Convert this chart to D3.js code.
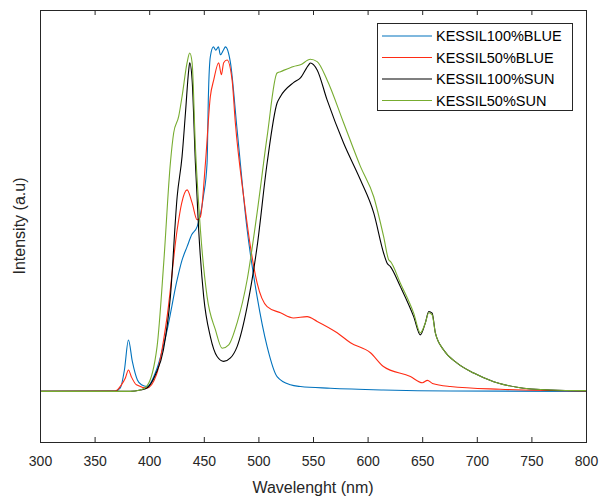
<!DOCTYPE html>
<meta charset="utf-8">
<style>
  body {
    margin: 0;
    background: #fff;
    font-family: "Liberation Sans", Arial, sans-serif;
  }
  .axis text {
    font-size: 14px;
    fill: #262626;
  }
  .axis line, .axis path {
    stroke: #262626;
  }
  .series {
    fill: none;
    stroke-width: 1.1;
    stroke-linejoin: round;
  }
  .legend text {
    font-size: 14.5px;
    fill: #000;
  }
</style>
<body>
<div id="chart"></div>
<script src="https://d3js.org/d3.v7.min.js"></script>
<script>
// wavelength (nm) and intensity (a.u., normalised)
const seriesNames = ["KESSIL100%BLUE", "KESSIL50%BLUE", "KESSIL100%SUN", "KESSIL50%SUN"];
const seriesColors = ["#0072BD", "#FF2B14", "#000000", "#77AC30"];

const wlBlue100 = [300, 369, 373.6, 377.3, 381, 384.6, 389.2, 392.9, 398, 406.6, 416.4, 425.6, 430, 434.7, 439, 443.9, 449.6, 453, 454.2, 456, 458.8, 461, 463.4, 465.2, 468, 469.8, 474.4, 480.5, 489.7, 498.8, 508, 517.1, 529.3, 538.5, 565.9, 614.5, 675.8, 800];
const valBlue100 = [0, 0.001, 0.01, 0.062, 0.149, 0.086, 0.033, 0.019, 0.014, 0.062, 0.178, 0.324, 0.38, 0.42, 0.455, 0.478, 0.565, 0.663, 0.856, 0.972, 1.0, 0.99, 1.0, 0.977, 0.991, 1.0, 0.954, 0.759, 0.469, 0.275, 0.13, 0.043, 0.019, 0.014, 0.009, 0.004, 0.001, 0];

const wlBlue50 = [300, 369, 374.5, 378.2, 381, 383.7, 388.3, 398, 406.6, 416.4, 425.6, 429.7, 434.7, 439.3, 443.9, 446.9, 451.5, 456, 459.1, 463.6, 466.1, 468.2, 471.3, 475.9, 478.9, 486.5, 492.7, 498.8, 508, 520.2, 532.1, 544.6, 553.8, 572.1, 584.3, 602.6, 614.5, 639.2, 650.2, 654.8, 659.4, 675.8, 721.6, 800];
const valBlue50 = [0, 0.001, 0.019, 0.039, 0.062, 0.042, 0.019, 0.01, 0.048, 0.217, 0.469, 0.546, 0.585, 0.547, 0.498, 0.507, 0.663, 0.856, 0.904, 0.954, 0.919, 0.954, 0.962, 0.904, 0.779, 0.565, 0.42, 0.315, 0.246, 0.228, 0.213, 0.217, 0.203, 0.17, 0.141, 0.112, 0.072, 0.043, 0.025, 0.032, 0.023, 0.014, 0.006, 0.001];

const wlSun100 = [300, 382.8, 391.9, 398, 405.7, 413, 419.4, 425.6, 430.1, 433.2, 436.2, 437.1, 439.3, 442.3, 445.3, 449.9, 456, 462.2, 468.2, 474.4, 480.5, 489.7, 498.8, 508, 517.1, 520.2, 532.1, 538.5, 546.1, 547.6, 553.8, 562.9, 578.1, 593.4, 605.6, 614.7, 617.9, 620.9, 630, 642.2, 648.3, 652.9, 656, 659.1, 662.1, 669.7, 682, 697.2, 715.5, 736.9, 767.8, 800];
const valSun100 = [0, 0, 0.004, 0.01, 0.048, 0.12, 0.275, 0.565, 0.682, 0.808, 0.933, 0.954, 0.904, 0.663, 0.469, 0.275, 0.159, 0.101, 0.087, 0.097, 0.13, 0.246, 0.42, 0.663, 0.837, 0.856, 0.896, 0.91, 0.948, 0.953, 0.933, 0.846, 0.72, 0.614, 0.518, 0.401, 0.372, 0.362, 0.304, 0.217, 0.164, 0.199, 0.232, 0.227, 0.169, 0.12, 0.082, 0.053, 0.028, 0.012, 0.004, 0.002];

const wlSun50 = [300, 382.8, 391.9, 398, 407.2, 413.3, 419.4, 422.4, 427, 430.1, 434.7, 437.1, 439.3, 442.3, 446.9, 453, 460.6, 466.8, 472.8, 480.5, 489.7, 498.8, 508, 517.1, 520.2, 532.3, 538.5, 547.6, 553.8, 562.9, 578.1, 593.4, 605.6, 614.7, 619.3, 620.9, 630, 642.2, 648.3, 652.9, 656, 659.1, 662.1, 669.7, 682, 697.2, 715.5, 736.9, 767.8, 800];
const valSun50 = [0, 0, 0.004, 0.016, 0.13, 0.373, 0.663, 0.75, 0.798, 0.856, 0.954, 0.982, 0.954, 0.711, 0.469, 0.275, 0.179, 0.125, 0.135, 0.199, 0.324, 0.518, 0.74, 0.924, 0.928, 0.943, 0.948, 0.964, 0.957, 0.904, 0.779, 0.653, 0.565, 0.449, 0.382, 0.377, 0.314, 0.227, 0.17, 0.199, 0.228, 0.222, 0.169, 0.12, 0.082, 0.053, 0.028, 0.012, 0.004, 0.002];

const xTicks = [300, 350, 400, 450, 500, 550, 600, 650, 700, 750, 800];

const wavelengths = [wlBlue100, wlBlue50, wlSun100, wlSun50];
const intensities = [valBlue100, valBlue50, valSun100, valSun50];

const series = seriesNames.map((name, i) => ({
  name: name,
  color: seriesColors[i],
  points: wavelengths[i].map((w, j) => ({ wl: w, v: intensities[i][j] }))
}));

const width = 601, height = 499;
const margin = { top: 10, right: 15, bottom: 57, left: 40 };

const svg = d3.select("#chart")
  .append("svg")
  .attr("width", width)
  .attr("height", height);

const x = d3.scaleLinear()
  .domain([300, 800])
  .range([margin.left, width - margin.right]);

const y = d3.scaleLinear()
  .domain([-0.147, 1.107])
  .range([height - margin.bottom, margin.top]);

svg.append("defs").append("clipPath")
  .attr("id", "clip")
  .append("rect")
  .attr("x", margin.left)
  .attr("y", margin.top)
  .attr("width", width - margin.left - margin.right)
  .attr("height", height - margin.top - margin.bottom);

// lines
const line = d3.line()
  .curve(d3.curveMonotoneX)
  .x(d => x(d.wl))
  .y(d => y(d.v));

svg.append("g")
  .attr("clip-path", "url(#clip)")
  .selectAll("path")
  .data(series)
  .join("path")
  .attr("class", "series")
  .attr("stroke", d => d.color)
  .attr("d", d => line(d.points));

// axes (ticks pointing inward, box around)
svg.append("g")
  .attr("class", "axis")
  .attr("transform", `translate(0,${height - margin.bottom})`)
  .call(d3.axisBottom(x).tickValues(xTicks).tickSizeInner(-5).tickSizeOuter(0).tickPadding(14))
  .call(g => g.select(".domain").remove());

svg.append("g")
  .attr("class", "axis")
  .attr("transform", `translate(0,${margin.top})`)
  .call(d3.axisTop(x).tickValues(xTicks).tickSizeInner(-5).tickSizeOuter(0).tickFormat(""))
  .call(g => g.select(".domain").remove());

svg.append("rect")
  .attr("x", margin.left + 0.5)
  .attr("y", margin.top + 0.5)
  .attr("width", width - margin.left - margin.right)
  .attr("height", height - margin.top - margin.bottom)
  .attr("fill", "none")
  .attr("stroke", "#262626")
  .attr("stroke-width", 1);

// axis labels
svg.append("text")
  .attr("x", (margin.left + width - margin.right) / 2)
  .attr("y", 493)
  .attr("text-anchor", "middle")
  .style("font-size", "16px")
  .style("fill", "#262626")
  .text("Wavelenght (nm)");

svg.append("text")
  .attr("transform", `translate(25,${(margin.top + height - margin.bottom) / 2}) rotate(-90)`)
  .attr("text-anchor", "middle")
  .style("font-size", "16px")
  .style("fill", "#262626")
  .text("Intensity (a.u)");

// legend
const legend = svg.append("g").attr("class", "legend");
legend.append("rect")
  .attr("x", 377.5)
  .attr("y", 23.5)
  .attr("width", 195)
  .attr("height", 87)
  .attr("fill", "#fff")
  .attr("stroke", "#262626");

const rows = legend.selectAll(".row")
  .data(series)
  .join("g")
  .attr("class", "row")
  .attr("transform", (d, i) => `translate(0,${36 + i * 21.5})`);

rows.append("line")
  .attr("x1", 382)
  .attr("x2", 432)
  .attr("stroke", d => d.color)
  .attr("stroke-width", 1.1);

rows.append("text")
  .attr("x", 436)
  .attr("dy", "0.36em")
  .text(d => d.name);
</script>
</body>
